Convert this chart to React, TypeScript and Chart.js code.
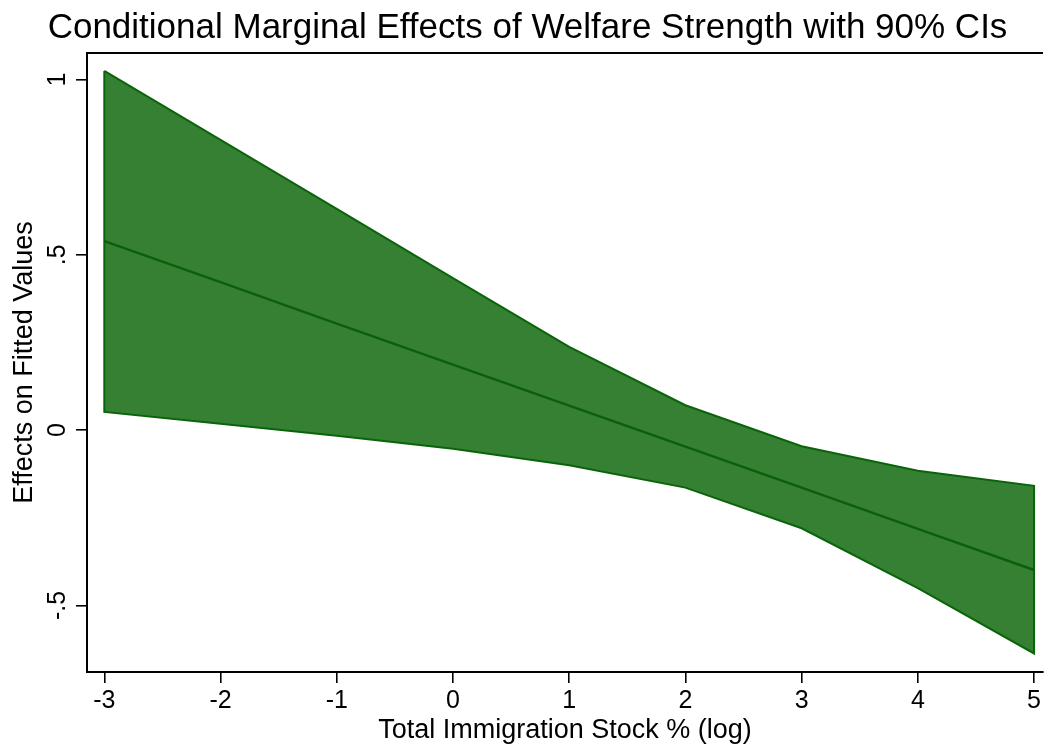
import React, { useEffect, useRef } from "react";
import { Chart, registerables } from "chart.js";

Chart.register(...registerables);

const TITLE = "Conditional Marginal Effects of Welfare Strength with 90% CIs";
const X_TITLE = "Total Immigration Stock % (log)";
const Y_TITLE = "Effects on Fitted Values";

const xValues = [-3, -2, -1, 0, 1, 2, 3, 4, 5];
const meanEffect = [0.539, 0.422, 0.304, 0.187, 0.07, -0.047, -0.164, -0.282, -0.399];
const upperCI = [1.025, 0.828, 0.631, 0.434, 0.2375, 0.071, -0.046, -0.116, -0.159];
const lowerCI = [0.052, 0.018, -0.016, -0.053, -0.1, -0.164, -0.28, -0.451, -0.637];

const xTicks = [-3, -2, -1, 0, 1, 2, 3, 4, 5];
const xTickLabels = ["-3", "-2", "-1", "0", "1", "2", "3", "4", "5"];
const yTicks = [-0.5, 0, 0.5, 1];
const yTickLabels = ["-.5", "0", ".5", "1"];

const FONT = '"Liberation Sans", Arial, Helvetica, sans-serif';

export default function App() {
  const ref = useRef<HTMLCanvasElement | null>(null);

  useEffect(() => {
    if (!ref.current) return;
    document.body.style.margin = "0";

    const bandPoints = [
      ...xValues.map((x, i) => ({ x, y: upperCI[i] })),
      ...xValues
        .map((x, i) => ({ x, y: lowerCI[i] }))
        .reverse(),
      { x: xValues[0], y: upperCI[0] },
    ];
    const meanPoints = xValues.map((x, i) => ({ x, y: meanEffect[i] }));

    const textPlugin = {
      id: "stataText",
      afterDraw(chart: any) {
        const { ctx, chartArea, scales } = chart;
        ctx.save();
        ctx.strokeStyle = "#000";
        ctx.lineWidth = 2;
        ctx.beginPath();
        ctx.moveTo(chartArea.left - 1, chartArea.top);
        ctx.lineTo(chartArea.right, chartArea.top);
        ctx.stroke();

        ctx.fillStyle = "#000";
        ctx.textAlign = "center";
        ctx.textBaseline = "alphabetic";
        ctx.font = `35px ${FONT}`;
        ctx.fillText(TITLE, 527.5, 38);

        ctx.font = `25px ${FONT}`;
        yTicks.forEach((v, i) => {
          const py = scales.y.getPixelForValue(v);
          ctx.save();
          ctx.translate(chartArea.left - 22, py);
          ctx.rotate(-Math.PI / 2);
          ctx.fillText(yTickLabels[i], 0, 0);
          ctx.restore();
        });
        ctx.restore();
      },
    };

    const chart = new Chart(ref.current, {
      type: "line",
      data: {
        datasets: [
          {
            label: "Effect",
            data: meanPoints,
            borderColor: "rgb(10,96,10)",
            borderWidth: 2.4,
            pointRadius: 0,
            fill: false,
            tension: 0,
          },
          {
            label: "90% CI",
            data: bandPoints,
            borderColor: "rgb(10,100,10)",
            backgroundColor: "rgb(54,128,51)",
            borderWidth: 2,
            pointRadius: 0,
            fill: "shape",
            tension: 0,
          },
        ],
      },
      options: {
        responsive: false,
        animation: false,
        layout: { padding: { top: 53, left: 0, right: 0, bottom: 0 } },
        plugins: {
          legend: { display: false },
          title: { display: false },
          tooltip: { enabled: false },
        },
        scales: {
          x: {
            type: "linear",
            position: "bottom",
            min: -3.149,
            max: 5.077,
            afterBuildTicks: (s: any) => {
              s.ticks = xTicks.map((v) => ({ value: v }));
            },
            afterFit: (s: any) => {
              s.height = 77;
            },
            grid: {
              display: true,
              drawOnChartArea: false,
              drawTicks: true,
              tickLength: 11,
              color: "#000",
              lineWidth: 1.6,
            },
            border: { display: true, color: "#000", width: 2 },
            ticks: {
              color: "#000",
              font: { family: FONT, size: 25 },
              padding: 3,
              maxRotation: 0,
              minRotation: 0,
              callback: (v: any) => {
                const i = xTicks.indexOf(Number(v));
                return i >= 0 ? xTickLabels[i] : "";
              },
            },
            title: {
              display: true,
              text: X_TITLE,
              color: "#000",
              font: { family: FONT, size: 27 },
              padding: { top: 0, bottom: 2 },
            },
          },
          y: {
            type: "linear",
            position: "left",
            min: -0.69,
            max: 1.076,
            afterBuildTicks: (s: any) => {
              s.ticks = yTicks.map((v) => ({ value: v }));
            },
            afterFit: (s: any) => {
              s.width = 87;
            },
            grid: {
              display: true,
              drawOnChartArea: false,
              drawTicks: true,
              tickLength: 11,
              color: "#000",
              lineWidth: 1.6,
            },
            border: { display: true, color: "#000", width: 2 },
            ticks: {
              color: "rgba(0,0,0,0)",
              font: { family: FONT, size: 24 },
              callback: () => "",
            },
            title: {
              display: true,
              text: Y_TITLE,
              color: "#000",
              font: { family: FONT, size: 27 },
              padding: { top: 8, bottom: 0 },
            },
          },
        },
      },
      plugins: [textPlugin],
    });

    return () => chart.destroy();
  }, []);

  return (
    <div style={{ position: "absolute", left: 0, top: 0, width: 1044, height: 749, background: "#fff" }}>
      <canvas ref={ref} width={1044} height={749} style={{ display: "block" }} />
    </div>
  );
}
